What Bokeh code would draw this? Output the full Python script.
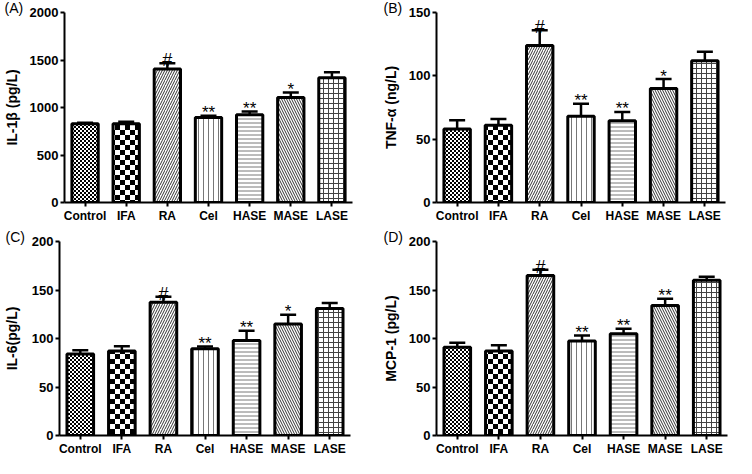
import base64
from bokeh.plotting import figure
from bokeh.models import (ColumnDataSource, FactorRange, Range1d, Whisker, TeeHead,
                          ImageURLTexture)
from bokeh.layouts import column, row
from bokeh.embed import file_html
from bokeh.resources import INLINE
from bokeh.core.properties import value

# ---------------- data ----------------
groups = ["Control", "IFA", "RA", "Cel", "HASE", "MASE", "LASE"]

il1b_mean = [828, 828, 1404, 896, 923, 1104, 1312]
il1b_sem = [12, 22, 62, 16, 34, 54, 58]
il1b_sig = ["", "", "#", "**", "**", "*", ""]

tnfa_mean = [58, 61, 124, 68, 64.5, 90, 112]
tnfa_sem = [7, 5, 12, 10, 7, 7.5, 7]
tnfa_sig = ["", "", "#", "**", "**", "*", ""]

il6_mean = [84, 87, 137.5, 89.5, 98, 115, 131]
il6_sem = [4, 5, 5.5, 2.3, 10, 9.5, 5.7]
il6_sig = ["", "", "#", "**", "**", "*", ""]

mcp1_mean = [91, 87, 165, 97.5, 105, 134, 160]
mcp1_sem = [4.6, 6, 6, 5.6, 5, 7, 3.6]
mcp1_sig = ["", "", "#", "**", "**", "**", ""]

ticks_a = [0, 500, 1000, 1500, 2000]
ticks_b = [0, 50, 100, 150]
ticks_c = [0, 50, 100, 150, 200]
ticks_d = [0, 50, 100, 150, 200]

# ---------------- styles ----------------
FONT = "Liberation Sans"
PATS = ["checker_fine", "checker_big", "right_diagonal_line", "vertical_line",
        "horizontal_line", "left_diagonal_line", "cross"]
HSCALE = [4, 10, 5, 5, 4, 5, 5]
HCOLOR = ["black", "black", "#333333", "#777777", "#777777", "#333333", "#444444"]
HWEIGHT = [1, 1, 1, 1, 1, 1, 1]


def checker_url(n):
    h = n // 2
    svg = (f'<svg xmlns="http://www.w3.org/2000/svg" width="{n}" height="{n}" '
           f'shape-rendering="crispEdges">'
           f'<rect x="0" y="0" width="{h}" height="{h}" fill="black"/>'
           f'<rect x="{h}" y="{h}" width="{n - h}" height="{n - h}" fill="black"/></svg>')
    return "data:image/svg+xml;base64," + base64.b64encode(svg.encode()).decode()


def textures():
    return {"checker_fine": ImageURLTexture(url=checker_url(4)),
            "checker_big": ImageURLTexture(url=checker_url(10))}


def panel(letter, means, sems, sigs, ylabel, ymax, yticks, w, h, bl, br, bb,
          title_x, label_standoff):
    p = figure(width=w, height=h, x_range=FactorRange(factors=groups),
               y_range=Range1d(0, ymax), output_backend="svg", toolbar_location=None,
               min_border_left=bl, min_border_right=br, min_border_top=0,
               min_border_bottom=bb, title=letter)
    p.outline_line_color = None
    p.xgrid.grid_line_color = None
    p.ygrid.grid_line_color = None
    p.background_fill_color = "white"
    p.border_fill_color = "white"

    p.title.align = "left"
    p.title.offset = title_x - bl
    p.title.standoff = -6
    p.title.text_font = FONT
    p.title.text_font_size = "14px"
    p.title.text_font_style = "normal"
    p.title.text_color = "black"

    upper = [m + s for m, s in zip(means, sems)]
    sizes = ["18px" if s == "#" else "17px" for s in sigs]
    src = ColumnDataSource(dict(g=groups, top=means, upper=upper, sig=sigs, fs=sizes,
                                pat=PATS, hs=HSCALE, hc=HCOLOR, hw=HWEIGHT))
    p.vbar(x="g", top="top", width=0.64, source=src, fill_color="white",
           line_color="black", line_width=3, hatch_pattern="pat", hatch_scale="hs",
           hatch_color="hc", hatch_weight="hw", hatch_extra=textures())
    p.add_layout(Whisker(source=src, base="g", upper="upper", lower="top",
                         line_width=2.5, line_color="black",
                         upper_head=TeeHead(size=16, line_width=2.5, line_color="black"),
                         lower_head=None))
    p.text(x="g", y="upper", text="sig", source=src, text_align="center",
           text_baseline="alphabetic", y_offset=-3, text_font=value(FONT),
           text_font_size="fs", text_color="black")

    for ax in (p.xaxis[0], p.yaxis[0]):
        ax.axis_line_width = 2
        ax.axis_line_color = "black"
        ax.major_tick_line_width = 2
        ax.major_tick_line_color = "black"
        ax.major_tick_in = 0
        ax.major_tick_out = 4
        ax.minor_tick_line_color = None
        ax.major_label_text_font = FONT
        ax.major_label_text_font_style = "bold"
        ax.major_label_text_color = "black"
        ax.major_label_standoff = 2
    p.xaxis.major_label_text_font_size = "12px"
    p.yaxis.major_label_text_font_size = "13px"
    p.yaxis.ticker = yticks
    p.yaxis.bounds = (0, ymax)
    p.yaxis.axis_label = ylabel
    p.yaxis.axis_label_text_font = FONT
    p.yaxis.axis_label_text_font_style = "bold"
    p.yaxis.axis_label_text_font_size = "14px"
    p.yaxis.axis_label_text_color = "black"
    p.yaxis.axis_label_standoff = label_standoff
    return p


pa = panel("(A)", il1b_mean, il1b_sem, il1b_sig, "IL-1β (pg/L)", 2000, ticks_a,
           368, 229, 63, 16, 27, 3, 7)
pb = panel("(B)", tnfa_mean, tnfa_sem, tnfa_sig, "TNF-α (ng/L)", 150, ticks_b,
           368, 229, 68, 11, 27, 15, 7)
pc = panel("(C)", il6_mean, il6_sem, il6_sig, "IL-6(pg/L)", 200, ticks_c,
           368, 229, 57, 18, 20, 3, 9)
pd = panel("(D)", mcp1_mean, mcp1_sem, mcp1_sig, "MCP-1 (pg/L)", 200, ticks_d,
           368, 229, 68, 9, 20, 15, 7)

layout = column(row(pa, pb), row(pc, pd))
open("out.html", "w").write(file_html(layout, INLINE))
